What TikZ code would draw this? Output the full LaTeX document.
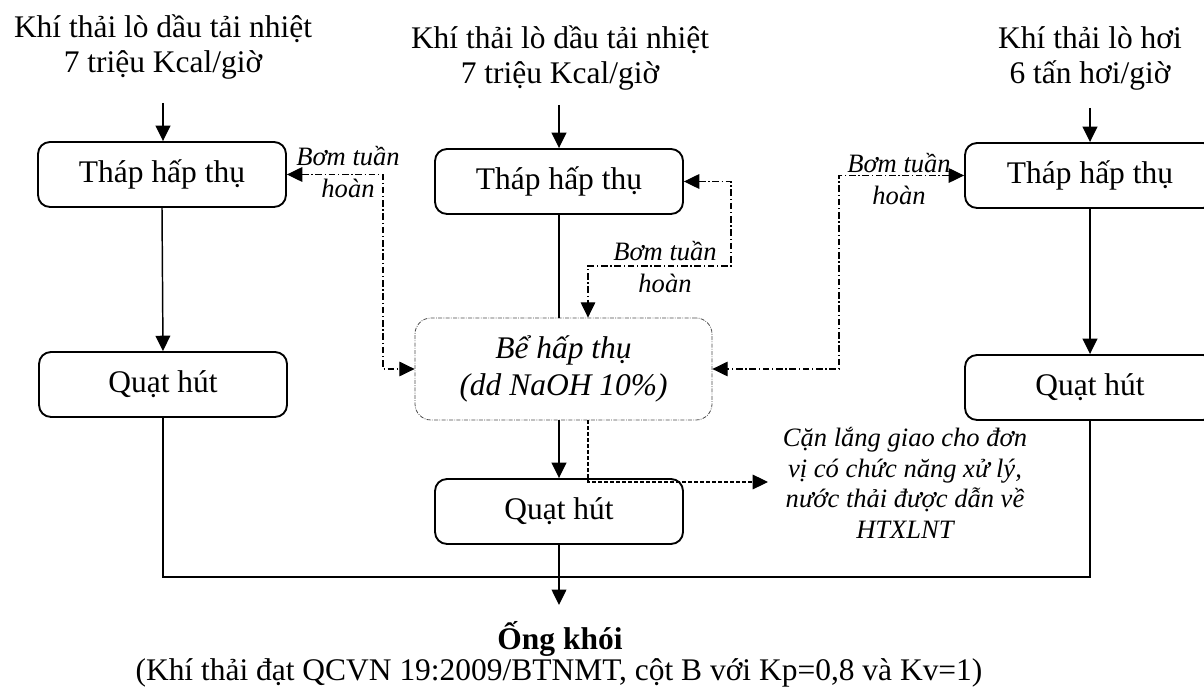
\documentclass[tikz,border=0pt]{standalone}
\usepackage{fontspec}
\setmainfont{Liberation Serif}
\usetikzlibrary{arrows.meta,calc}
\newcommand\myBig{\fontsize{23.6pt}{26.25pt}\selectfont}
\newcommand\myBe{\fontsize{23.6pt}{27.75pt}\selectfont}
\newcommand\myLab{\fontsize{19.9pt}{24pt}\selectfont}
\newcommand\myNote{\fontsize{19.9pt}{22.9pt}\selectfont}
\begin{document}
\begin{tikzpicture}[x=0.75pt,y=-0.75pt,
  tip/.style={-{Triangle[length=11.5pt,width=11pt]}},
  box/.style={draw,line width=1.4pt,rounded corners=9pt,minimum width=186pt,
    minimum height=48.75pt,inner sep=0pt,font=\myBig},
  ttl/.style={align=center,inner sep=0pt,font=\myBig},
  lab/.style={align=center,inner sep=0pt,font=\myLab\itshape},
  arr/.style={tip,line width=1.1pt},
  thin/.style={line width=0.9pt},
  dd/.style={line width=0.8pt,dash pattern=on 5pt off 2pt on 1pt off 2pt,
    {Triangle[length=11.5pt,width=11pt]}-{Triangle[length=11.5pt,width=11pt]}},
  dsh/.style={line width=0.8pt,dash pattern=on 3pt off 1.5pt,tip},
  bebox/.style={draw=black!70,line width=0.6pt,rounded corners=12pt,
    dash pattern=on 3pt off 1pt on 0.6pt off 1pt,minimum width=222.75pt,
    minimum height=76.5pt,inner sep=0pt,align=center,font=\myBe\itshape}]
\useasboundingbox (0,0) rectangle (1204,691);
\clip (0,0) rectangle (1204,691);

% titles
\node[ttl] (t1) at (163,47) {Khí thải lò dầu tải nhiệt\\7 triệu Kcal/giờ};
\node[ttl] (t2) at (560,58) {Khí thải lò dầu tải nhiệt\\7 triệu Kcal/giờ};
\node[ttl] (t3) at (1090,58) {Khí thải lò hơi\\6 tấn hơi/giờ};

% boxes
\node[box] (a1) at (162,174.5) {Tháp hấp thụ};
\node[box] (q1) at (163,384.5) {Quạt hút};
\node[box] (a2) at (559,181.5) {Tháp hấp thụ};
\node[bebox] (be) at (563.5,369) {Bể hấp thụ\\(dd NaOH 10\%)};
\node[box] (q2) at (559,511.5) {Quạt hút};
\node[box,minimum width=187.5pt] (a3) at (1090,175.5) {Tháp hấp thụ};
\node[box,minimum width=187.5pt] (q3) at (1090,387.5) {Quạt hút};

% labels
\node[lab] (b1) at (348,172) {Bơm tuần\\hoàn};
\node[lab] (b2) at (665,267) {Bơm tuần\\hoàn};
\node[lab] (b3) at (899,179) {Bơm tuần\\hoàn};
\node[align=center,inner sep=0pt,font=\myNote\itshape] (can) at (905,483)
  {Cặn lắng giao cho đơn\\vị có chức năng xử lý,\\nước thải được dẫn về\\HTXLNT};
\node[inner sep=0pt,font=\myBig\bfseries] (ong) at (560,638.5) {Ống khói};
\node[inner sep=0pt,font=\myBig] (qc) at (559,673)
  {(Khí thải đạt QCVN 19:2009/BTNMT, cột B với Kp=0,8 và Kv=1)};

% coordinates
\coordinate (s1) at (163,103);
\coordinate (s2) at (559,105);
\coordinate (s3) at (1090,108);
\coordinate (jn) at (559,577);
\coordinate (ot) at (559,605);
\coordinate (c1) at (383,369);
\coordinate (c2) at (731,266);
\coordinate (c3) at (839,369);
\coordinate (cw) at (768,482);

% solid connectors
\draw[arr] (s1) -- (s1 |- a1.north);
\draw[arr] (s2) -- (s2 |- a2.north);
\draw[arr] (s3) -- (s3 |- a3.north);
\draw[arr] (a1.south) -- (q1.north);
\draw[arr] (a3.south) -- (q3.north);
\draw[thin] (a2.south -| q2.north) -- (a2.south |- be.north);
\draw[arr] (be.south -| q2.north) -- (q2.north);
\draw[arr] (q2.south) -- (ot);
\draw[thin] (q1.south) |- (jn) -| (q3.south);

% dash-dot loops
\draw[dd] (a1.east) -| (c1) -- (be.west);
\draw[dd] (a3.west) -| (c3) -- (be.east);
\draw[dd] (a2.east) -| (c2) -| ($(be.north)+(24.5,0)$);
\draw[dsh] ($(be.south)+(24.5,0)$) |- (cw);
\end{tikzpicture}
\end{document}
